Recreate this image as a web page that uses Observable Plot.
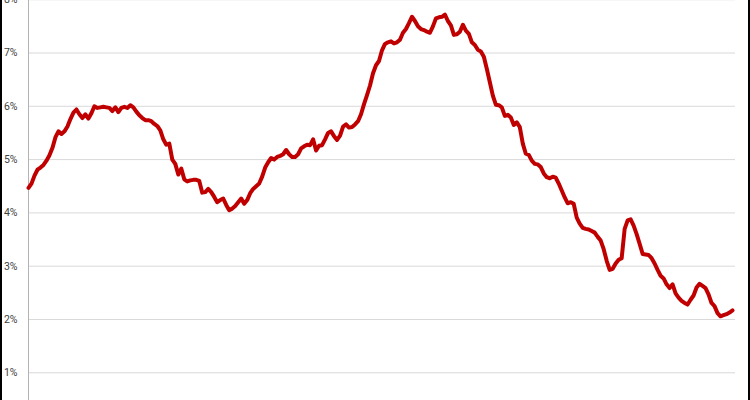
<!DOCTYPE html>
<html><head><meta charset="utf-8">
<script src="https://cdn.jsdelivr.net/npm/d3@7"></script>
<script src="https://cdn.jsdelivr.net/npm/@observablehq/plot@0.6"></script>
<style>
body{margin:0;background:#fff}
#wrap{position:relative;width:750px;height:400px;overflow:hidden;background:#fff}
.edge{position:absolute;top:0;height:400px;background:#000}
</style>
</head><body>
<div id="wrap"><div class="edge" style="left:0;width:1.5px"></div><div class="edge" style="right:0;width:2px"></div></div>
<script>
// Percentage values, one per period (evenly spaced)
const rate = [
  4.47, 4.55, 4.70, 4.81, 4.85, 4.90, 4.98, 5.08, 5.22, 5.42,
  5.53, 5.48, 5.53, 5.62, 5.76, 5.88, 5.94, 5.85, 5.78, 5.85,
  5.77, 5.87, 6.00, 5.97, 5.98, 5.99, 5.98, 5.97, 5.91, 5.98,
  5.89, 5.97, 5.99, 5.97, 6.02, 5.98, 5.90, 5.83, 5.78, 5.74,
  5.74, 5.72, 5.67, 5.63, 5.55, 5.38, 5.28, 5.30, 5.00, 4.92,
  4.72, 4.83, 4.63, 4.59, 4.61, 4.62, 4.62, 4.60, 4.38, 4.39,
  4.45, 4.39, 4.30, 4.20, 4.24, 4.27, 4.15, 4.05, 4.08, 4.13,
  4.20, 4.27, 4.17, 4.24, 4.37, 4.45, 4.50, 4.55, 4.68, 4.85,
  4.95, 5.03, 5.00, 5.05, 5.07, 5.10, 5.18, 5.10, 5.05, 5.05,
  5.10, 5.21, 5.25, 5.28, 5.27, 5.38, 5.17, 5.26, 5.27, 5.38,
  5.50, 5.53, 5.44, 5.37, 5.45, 5.62, 5.66, 5.60, 5.61, 5.66,
  5.72, 5.85, 6.04, 6.21, 6.39, 6.62, 6.77, 6.85, 7.05, 7.17,
  7.20, 7.22, 7.18, 7.20, 7.25, 7.38, 7.45, 7.56, 7.68, 7.60,
  7.50, 7.45, 7.43, 7.40, 7.38, 7.50, 7.65, 7.67, 7.68, 7.72,
  7.60, 7.52, 7.34, 7.35, 7.40, 7.53, 7.42, 7.36, 7.20, 7.15,
  7.06, 7.03, 6.93, 6.70, 6.45, 6.20, 6.03, 6.02, 5.98, 5.82,
  5.84, 5.79, 5.65, 5.70, 5.61, 5.30, 5.11, 5.09, 4.98, 4.92,
  4.91, 4.86, 4.74, 4.67, 4.65, 4.68, 4.66, 4.55, 4.42, 4.29,
  4.18, 4.20, 4.17, 3.91, 3.80, 3.72, 3.70, 3.69, 3.66, 3.63,
  3.55, 3.48, 3.32, 3.10, 2.93, 2.95, 3.05, 3.12, 3.15, 3.70,
  3.86, 3.88, 3.76, 3.60, 3.42, 3.23, 3.22, 3.21, 3.15, 3.05,
  2.93, 2.82, 2.77, 2.66, 2.59, 2.66, 2.49, 2.41, 2.35, 2.31,
  2.28, 2.37, 2.45, 2.60, 2.67, 2.63, 2.59, 2.47, 2.31, 2.25,
  2.12, 2.06, 2.08, 2.10, 2.13, 2.17
];
const yTicks = [1, 2, 3, 4, 5, 6, 7, 8];

const chart = Plot.plot({
  width: 750,
  height: 400,
  marginLeft: 28,
  marginRight: 15,
  marginTop: 0,
  marginBottom: 0,
  x: {domain: [0, 236], axis: null},
  y: {domain: [0.48, 7.985], axis: null},
  style: {fontFamily: "Roboto, 'Liberation Sans', sans-serif", fontSize: "10.5px", background: "transparent", color: "#404040"},
  marks: [
    Plot.gridY(yTicks, {stroke: "#d9d9d9", strokeOpacity: 1, strokeWidth: 1}),
    Plot.ruleX([0], {stroke: "#b3b3b3", strokeWidth: 1}),
    Plot.axisY(yTicks, {tickSize: 0, tickPadding: 11, tickFormat: d => d + "%", fill: "#404040"}),
    Plot.line(rate, {x: (d, i) => i, y: d => d, stroke: "#c00000", strokeWidth: 4, strokeLinejoin: "round", strokeLinecap: "round"})
  ]
});
document.getElementById("wrap").prepend(chart);
</script>
</body></html>
